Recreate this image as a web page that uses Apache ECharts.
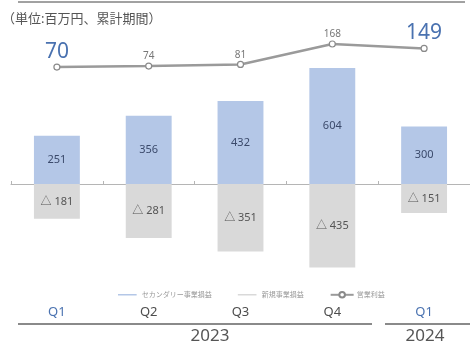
<!DOCTYPE html>
<html>
<head>
<meta charset="utf-8">
<script src="https://cdn.jsdelivr.net/npm/echarts@6/dist/echarts.min.js"></script>
<style>
  html, body { margin: 0; padding: 0; background: #fff; }
  #chart { width: 470px; height: 345px; }
</style>
</head>
<body>
<div id="chart"></div>
<script>
// Quarterly figures (単位: 百万円, 累計期間)
const quarters = ['Q1', 'Q2', 'Q3', 'Q4', 'Q1'];
const secondaryProfit = [251, 356, 432, 604, 300];      // セカンダリー事業損益
const newBusinessProfit = [-181, -281, -351, -435, -151]; // 新規事業損益
const operatingProfit = [70, 74, 81, 168, 149];          // 営業利益
const highlightIdx = [0, 4];                             // quarters shown in large type
const seriesNames = ['セカンダリー事業損益', '新規事業損益', '営業利益'];

const FONT = '"Noto Sans", "Noto Sans CJK JP", sans-serif';
const BLUE_TEXT = '#4a72b0';

const chart = echarts.init(document.getElementById('chart'));

// thin horizontal stroke used as legend icon for the bar series
const thinLine = 'path://M0 0H0.2V0.01H0Z M0 3.6H24V5.4H0Z M0 9H0.2V9.01H0Z';

chart.setOption({
  animation: false,
  textStyle: { fontFamily: FONT },
  title: {
    text: '（単位:百万円、累計期間）',
    left: -3,
    top: 8,
    textStyle: { fontSize: 13, fontWeight: 'normal', color: '#555', fontFamily: FONT }
  },
  legend: {
    top: 286,
    left: 113,
    itemWidth: 23,
    itemHeight: 7,
    itemGap: 26,
    textStyle: { fontSize: 7, color: '#999', fontFamily: FONT, padding: [0, 0, 0, -2] },
    data: [
      { name: seriesNames[0], icon: thinLine },
      { name: seriesNames[1], icon: thinLine },
      { name: seriesNames[2] }
    ]
  },
  grid: { left: 11, top: 40, width: 460, height: 240 },
  xAxis: [
    {
      type: 'category',
      data: quarters,
      position: 'top',
      axisLine: { onZero: true, onZeroAxisIndex: 0, lineStyle: { color: '#b5b5b5', width: 1 } },
      axisTick: { show: true, length: 3, lineStyle: { color: '#b5b5b5' } },
      axisLabel: { show: false },
      splitLine: { show: false }
    },
    {
      type: 'category',
      data: quarters,
      position: 'bottom',
      axisLine: { show: false },
      axisTick: { show: false },
      axisLabel: {
        margin: 26,
        fontSize: 13,
        fontFamily: FONT,
        formatter: (v, i) => (highlightIdx.includes(i) ? '{b|' + v + '}' : '{n|' + v + '}'),
        rich: {
          b: { color: BLUE_TEXT, fontSize: 13, fontFamily: FONT },
          n: { color: '#4d4d4d', fontSize: 13, fontFamily: FONT }
        }
      }
    }
  ],
  yAxis: [
    { type: 'value', min: -500, max: 750, show: false, splitLine: { show: false } },
    { type: 'value', min: -835, max: 185, show: false, splitLine: { show: false } }
  ],
  graphic: [
    { type: 'line', shape: { x1: 18, y1: 2, x2: 465, y2: 2 }, style: { stroke: '#444', lineWidth: 1 } },
    { type: 'line', shape: { x1: 18, y1: 324, x2: 372, y2: 324 }, style: { stroke: '#8a8a8a', lineWidth: 2 } },
    { type: 'line', shape: { x1: 385, y1: 324, x2: 470, y2: 324 }, style: { stroke: '#8a8a8a', lineWidth: 2 } },
    { type: 'text', x: 210, y: 336, style: { text: '2023', fill: '#555', font: '17px ' + FONT, textAlign: 'center', textVerticalAlign: 'middle' } },
    { type: 'text', x: 425, y: 336, style: { text: '2024', fill: '#555', font: '17px ' + FONT, textAlign: 'center', textVerticalAlign: 'middle' } }
  ],
  series: [
    {
      name: seriesNames[0],
      type: 'bar',
      stack: 'total',
      barWidth: '50%',
      data: secondaryProfit,
      itemStyle: { color: '#b4c7e7' },
      label: {
        show: true,
        position: 'inside',
        fontSize: 11,
        color: '#3b4a6b',
        fontFamily: FONT
      }
    },
    {
      name: seriesNames[1],
      type: 'bar',
      stack: 'total',
      barWidth: '50%',
      data: newBusinessProfit,
      itemStyle: { color: '#d9d9d9' },
      label: {
        show: true,
        position: 'inside',
        fontSize: 11,
        color: '#555',
        fontFamily: FONT,
        formatter: p => '△ ' + Math.abs(p.value)
      }
    },
    {
      name: seriesNames[2],
      type: 'line',
      yAxisIndex: 1,
      data: operatingProfit,
      symbol: 'circle',
      symbolSize: 6,
      lineStyle: { color: '#9a9a9a', width: 2.5 },
      itemStyle: { color: '#fff', borderColor: '#8a8a8a', borderWidth: 1.2 },
      label: {
        show: true,
        position: 'top',
        distance: 1,
        fontFamily: FONT,
        formatter: p => (highlightIdx.includes(p.dataIndex) ? '{big|' + p.value + '}' : '{small|' + p.value + '}'),
        rich: {
          big: { fontSize: 21, color: BLUE_TEXT, fontFamily: FONT },
          small: { fontSize: 10, color: '#777', fontFamily: FONT }
        }
      },
      z: 5
    }
  ]
});
</script>
</body>
</html>
